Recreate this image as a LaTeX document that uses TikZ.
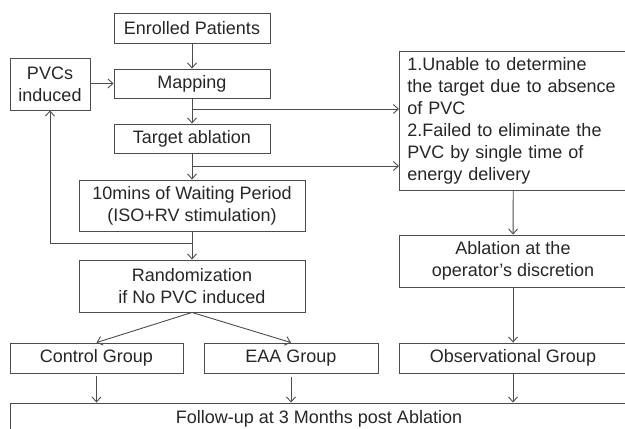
\documentclass[tikz,border=0pt]{standalone}
\usepackage{fontspec}
\setmainfont{Liberation Sans}
\usetikzlibrary{arrows.meta}
\begin{document}
\begin{tikzpicture}[x=1pt,y=-1pt,line width=0.9pt,
    every node/.style={font=\fontsize{18}{22}\selectfont,text=black!85},
    box/.style={draw=black!70,rectangle,inner sep=0pt,align=center},
    arr/.style={draw=black!70,-{Straight Barb[length=5pt,width=9pt]}},
    ln/.style={draw=black!70}]
    \useasboundingbox (0,0) rectangle (625,429);
    \clip (0,0) rectangle (625,429);
    \node[box,minimum width=156,minimum height=30] (enrolled) at (192,28) {Enrolled Patients};
    \node[box,minimum width=80,minimum height=52] (pvcs) at (50,84) {PVCs\\induced};
    \node[box,minimum width=156,minimum height=29] (mapping) at (192,83.5) {Mapping};
    \node[box,minimum width=156,minimum height=29] (target) at (192,138.5) {Target ablation};
    \node[box,minimum width=226,minimum height=51] (waiting) at (192,205.5) {10mins of Waiting Period\\(ISO+RV stimulation)};
    \node[box,minimum width=226,minimum height=52] (random) at (192,286) {Randomization\\if No PVC induced};
    \node[box,minimum width=173,minimum height=30] (control) at (96.5,358) {Control Group};
    \node[box,minimum width=174,minimum height=30] (eaa) at (291,358) {EAA Group};
    \node[box,align=left,anchor=north west,text width=212,inner xsep=8pt,minimum height=139] (reasons) at (399,51)
        {1.Unable to determine\\the target due to absence\\of PVC\\2.Failed to eliminate the\\PVC by single time of\\energy delivery};
    \node[box,minimum width=228,minimum height=52] (ablation) at (513,261) {Ablation at the\\operator’s discretion};
    \node[box,minimum width=228,minimum height=30] (observ) at (513,358) {Observational Group};
    \node[box,minimum width=618,minimum height=32] (followup) at (319,419) {Follow-up at 3 Months post Ablation};
    \coordinate (m1) at (192,109);
    \coordinate (t1) at (192,166);
    \coordinate (w1) at (192,243);
    \draw[arr] (enrolled) -- (mapping);
    \draw[arr] (pvcs.east |- mapping) -- (mapping.west);
    \draw[arr] (mapping) -- (target);
    \draw[arr] (m1) -- (m1 -| reasons.west);
    \draw[arr] (target) -- (waiting);
    \draw[arr] (t1) -- (t1 -| reasons.west);
    \draw[arr] (waiting) -- (random);
    \draw[arr] (w1) -| (pvcs.south);
    \draw[arr] (random.south) -- (control.north);
    \draw[arr] (random.south) -- (eaa.north);
    \draw[arr,shorten <=3pt] (control.south) -- (control.south |- followup.north);
    \draw[arr,shorten <=4pt] (eaa.south) -- (eaa.south |- followup.north);
    \draw[arr] (reasons) -- (ablation);
    \draw[arr] (ablation) -- (observ);
    \draw[arr] (observ) -- (observ.south |- followup.north);
\end{tikzpicture}
\end{document}
